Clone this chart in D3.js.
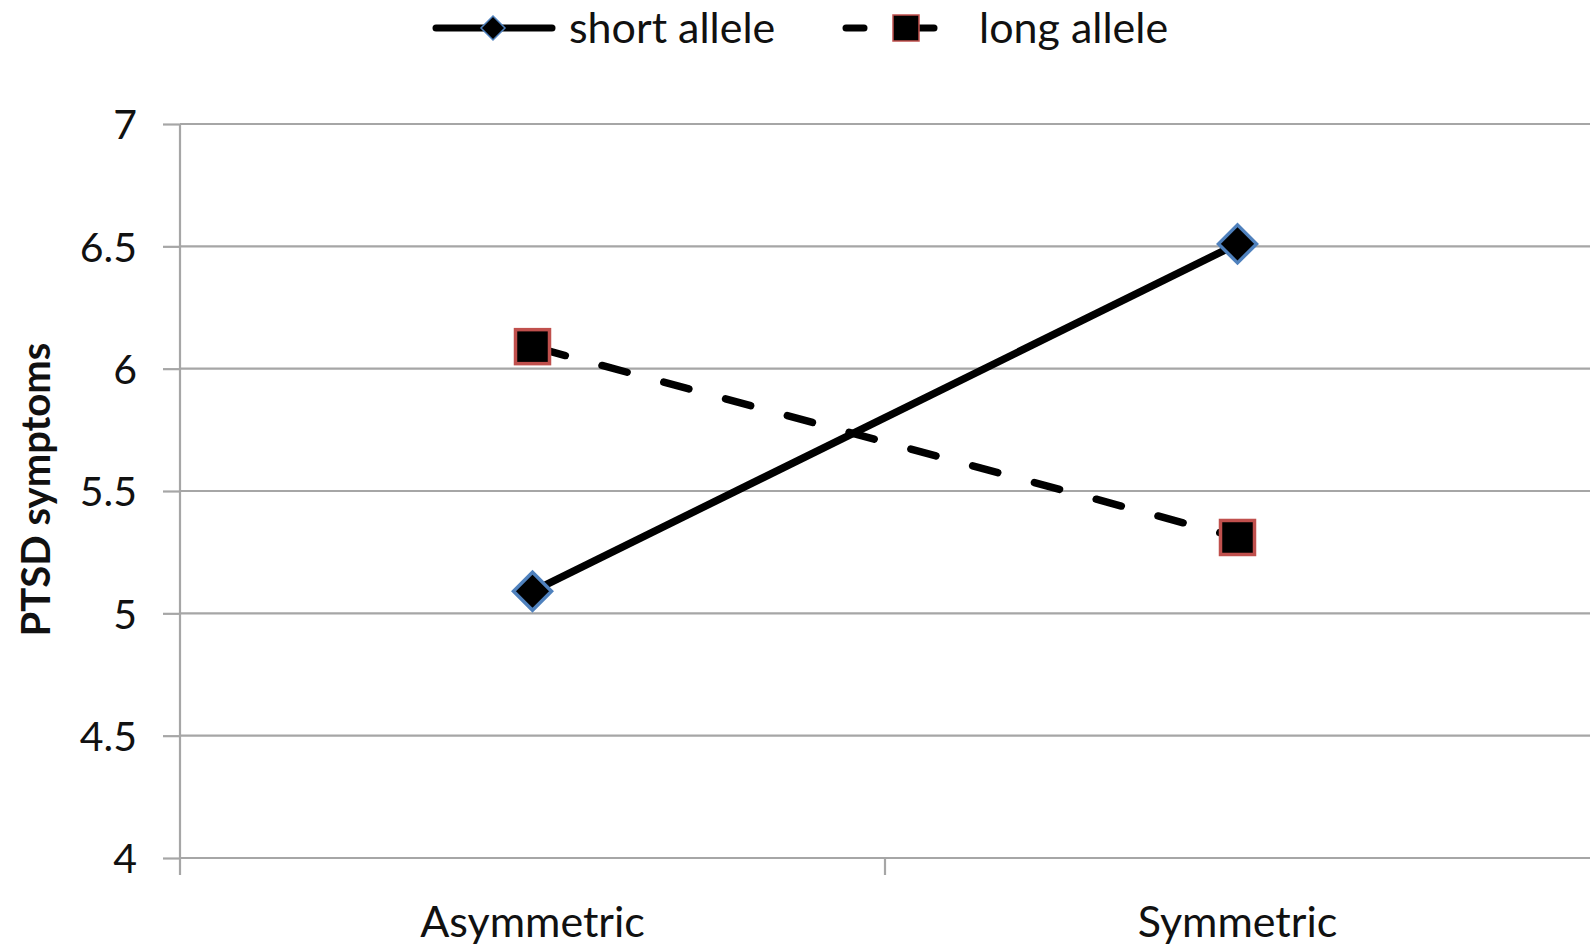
<!DOCTYPE html>
<html>
<head>
<meta charset="utf-8">
<script src="https://cdn.jsdelivr.net/npm/d3@7"></script>
<style>
  html, body { margin: 0; padding: 0; background: #fff; }
  svg { display: block; }
  text { font-family: Lato, "Open Sans", sans-serif; fill: #111; }
</style>
</head>
<body>
<svg id="chart" width="1590" height="946"></svg>
<script>
const categories = ["Asymmetric", "Symmetric"];
const shortAllele = [5.09, 6.51];
const longAllele = [6.09, 5.31];
const yTicks = [4, 4.5, 5, 5.5, 6, 6.5, 7];
const seriesNames = ["short allele", "long allele"];
const yTitle = "PTSD symptoms";

const W = 1590, H = 946;
const m = { left: 180, right: 0, top: 124, bottom: 88 };
const svg = d3.select("#chart");

const x = d3.scaleBand().domain(categories).range([m.left, W - m.right]).padding(0);
const y = d3.scaleLinear().domain([4, 7]).range([H - m.bottom, m.top]);

const gridColor = "#a6a6a6";

// gridlines
svg.append("g").selectAll("line").data(yTicks.filter(d => d !== 4)).join("line")
  .attr("x1", m.left).attr("x2", W - m.right)
  .attr("y1", d => y(d)).attr("y2", d => y(d))
  .attr("stroke", gridColor).attr("stroke-width", 2.2);

// y axis
const yAxis = svg.append("g").attr("transform", `translate(${m.left},0)`)
  .call(d3.axisLeft(y).tickValues(yTicks).tickSize(17).tickPadding(26).tickFormat(d3.format("")));
yAxis.select(".domain").attr("stroke", gridColor).attr("stroke-width", 2.2)
  .attr("d", `M0,${y(7)}V${y(4) + 17}`);
yAxis.selectAll(".tick line").attr("stroke", gridColor).attr("stroke-width", 2.2);
yAxis.selectAll(".tick text").style("font-family", "Lato, sans-serif").style("font-size", "41px").attr("fill", "#111").attr("dy", "0.36em");

// x axis
const xAxis = svg.append("g").attr("transform", `translate(0,${y(4)})`)
  .call(d3.axisBottom(x).tickSize(0).tickPadding(48));
xAxis.select(".domain").attr("stroke", gridColor).attr("stroke-width", 2.2)
  .attr("d", `M${m.left},0H${W}`);
xAxis.selectAll(".tick text").style("font-family", "Lato, sans-serif").style("font-size", "43px").attr("fill", "#111");
// category boundary ticks
const bounds = [x(categories[1])];
svg.append("g").selectAll("line").data(bounds).join("line")
  .attr("x1", d => d).attr("x2", d => d)
  .attr("y1", y(4)).attr("y2", y(4) + 17)
  .attr("stroke", gridColor).attr("stroke-width", 2.2);

// y title
svg.append("text")
  .attr("transform", `translate(50,${(335 + 644) / 2}) rotate(-90)`)
  .attr("text-anchor", "middle")
  .style("font-size", "40px").style("font-weight", "bold")
  .text(yTitle);

const cx = c => x(c) + x.bandwidth() / 2;
const line = d3.line().x(d => cx(d.c)).y(d => y(d.v));
const shortData = categories.map((c, i) => ({ c, v: shortAllele[i] }));
const longData = categories.map((c, i) => ({ c, v: longAllele[i] }));

svg.append("path").datum(longData).attr("d", line)
  .attr("fill", "none").attr("stroke", "#000").attr("stroke-width", 7.5)
  .attr("stroke-linecap", "round").attr("stroke-dasharray", "26,38").attr("stroke-dashoffset", -8);
svg.append("path").datum(shortData).attr("d", line)
  .attr("fill", "none").attr("stroke", "#000").attr("stroke-width", 7.5);

const diamond = (s) => `M0,${-s}L${s},0L0,${s}L${-s},0Z`;
svg.append("g").selectAll("path").data(shortData).join("path")
  .attr("transform", d => `translate(${cx(d.c)},${y(d.v)})`)
  .attr("d", diamond(19))
  .attr("fill", "#000").attr("stroke", "#4f81bd").attr("stroke-width", 3.5);

svg.append("g").selectAll("rect").data(longData).join("rect")
  .attr("x", d => cx(d.c) - 17).attr("y", d => y(d.v) - 17)
  .attr("width", 34).attr("height", 34)
  .attr("fill", "#000").attr("stroke", "#c0504d").attr("stroke-width", 3.5);

// legend
const lg = svg.append("g");
const ly = 28;
lg.append("line").attr("x1", 436).attr("x2", 552).attr("y1", ly).attr("y2", ly)
  .attr("stroke", "#000").attr("stroke-width", 7).attr("stroke-linecap", "round");
lg.append("path").attr("transform", `translate(493,${ly})`).attr("d", diamond(12))
  .attr("fill", "#000").attr("stroke", "#4f81bd").attr("stroke-width", 1.5);
lg.append("text").attr("x", 569).attr("y", ly).attr("dy", "0.36em")
  .style("font-size", "43px").text(seriesNames[0]);

lg.append("line").attr("x1", 846).attr("x2", 864).attr("y1", ly).attr("y2", ly)
  .attr("stroke", "#000").attr("stroke-width", 7).attr("stroke-linecap", "round");
lg.append("line").attr("x1", 908).attr("x2", 934).attr("y1", ly).attr("y2", ly)
  .attr("stroke", "#000").attr("stroke-width", 7).attr("stroke-linecap", "round");
lg.append("rect").attr("x", 893).attr("y", ly - 13).attr("width", 26).attr("height", 26)
  .attr("fill", "#000").attr("stroke", "#c0504d").attr("stroke-width", 1.5);
lg.append("text").attr("x", 979).attr("y", ly).attr("dy", "0.36em")
  .style("font-size", "43px").text(seriesNames[1]);
</script>
</body>
</html>
